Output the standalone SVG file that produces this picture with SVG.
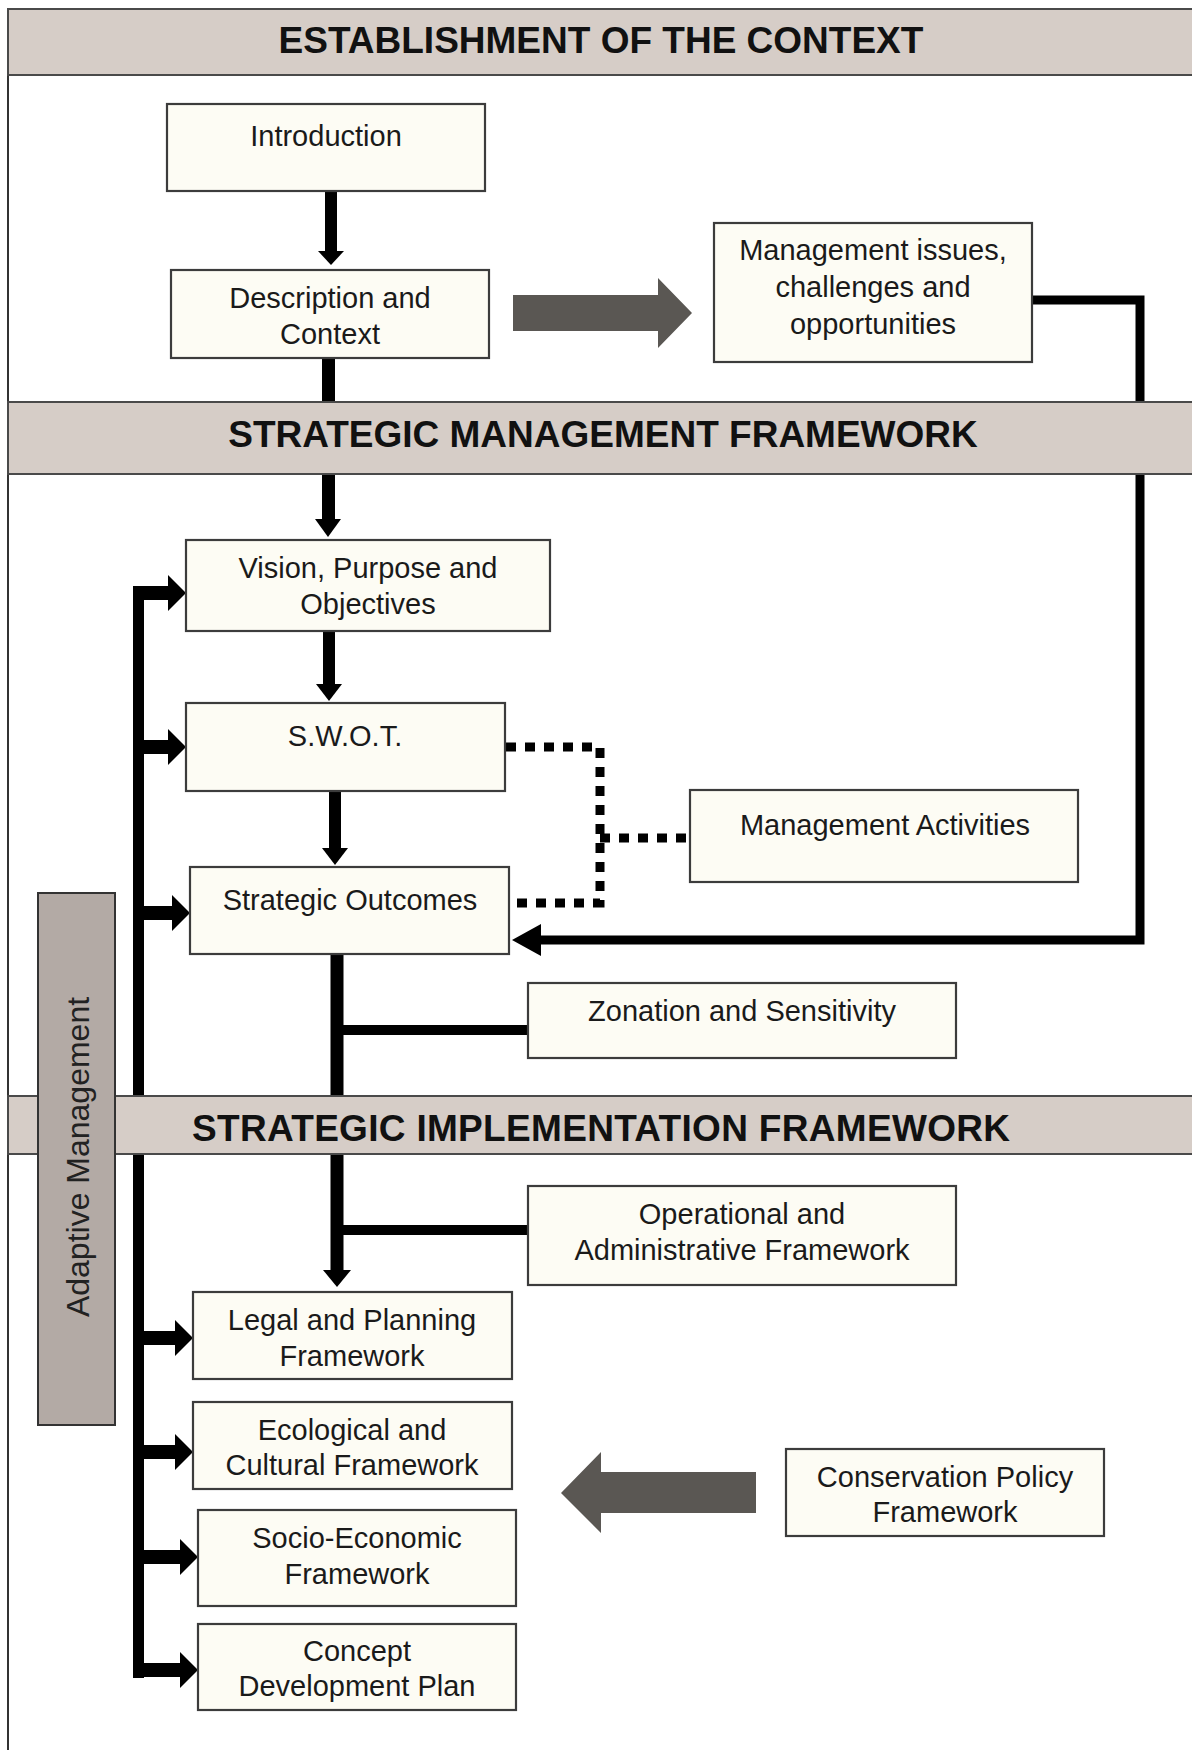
<svg xmlns="http://www.w3.org/2000/svg" width="1192" height="1750" viewBox="0 0 1192 1750">
<style>
.band{fill:#d6cdc7;stroke:#4a4a4a;stroke-width:2}
.bt{font-family:"Liberation Sans",Arial,sans-serif;font-weight:bold;font-size:37px;fill:#111;text-anchor:middle}
.box{fill:#fdfcf4;stroke:#3c3c3c;stroke-width:2.2}
.t{font-family:"Liberation Sans",Arial,sans-serif;font-size:29px;fill:#1a1a1a;text-anchor:middle}
.k{fill:#000}
.g{fill:#5a5753}
.ln{fill:none;stroke:#000;stroke-linejoin:miter}
.dot{fill:none;stroke:#000;stroke-width:9;stroke-dasharray:10 9}
.am{fill:#b3aaa5;stroke:#333;stroke-width:2}
.amt{font-family:"Liberation Sans",Arial,sans-serif;font-size:32px;fill:#222;text-anchor:middle}
</style>
<rect x="0" y="0" width="1192" height="1750" fill="#fff"/>
<line x1="8" y1="9" x2="8" y2="1750" stroke="#333" stroke-width="2"/>

<g id="connectors">
  <!-- Introduction -> Description -->
  <rect class="k" x="325" y="192" width="12" height="60"/>
  <polygon class="k" points="318,251 344,251 331,265"/>
  <!-- Description -> band -->
  <rect class="k" x="322" y="357" width="13" height="47"/>
  <!-- band -> Vision -->
  <rect class="k" x="322" y="473" width="13" height="47"/>
  <polygon class="k" points="315,519 341,519 328,537"/>
  <!-- Vision -> SWOT -->
  <rect class="k" x="323" y="630" width="12" height="55"/>
  <polygon class="k" points="316,684 342,684 329,701"/>
  <!-- SWOT -> Strategic Outcomes -->
  <rect class="k" x="329" y="790" width="12" height="59"/>
  <polygon class="k" points="322,848 348,848 335,865"/>
  <!-- Strategic Outcomes stem -> Legal -->
  <rect class="k" x="330.5" y="954" width="13" height="317"/>
  <polygon class="k" points="323,1270 351,1270 337,1287"/>
  <rect class="k" x="337" y="1025" width="192" height="10"/>
  <rect class="k" x="337" y="1225" width="192" height="10"/>
  <!-- Management issues feedback -> Strategic Outcomes -->
  <path class="ln" stroke-width="9" d="M1032,300 H1140 V940 H538"/>
  <polygon class="k" points="512,940 541,924 541,956"/>
  <!-- dotted links -->
  <path class="dot" d="M506,747 H600 V903 H510"/>
  <path class="dot" d="M600,838 H690"/>
  <!-- Adaptive management loop -->
  <rect class="k" x="133" y="586" width="11" height="1092"/>
  <rect class="k" x="133" y="586" width="38" height="14"/>
  <polygon class="k" points="168,575 168,611 186,593"/>
  <rect class="k" x="133" y="740" width="38" height="14"/>
  <polygon class="k" points="168,729 168,765 186,747"/>
  <rect class="k" x="133" y="906" width="42" height="14"/>
  <polygon class="k" points="172,895 172,931 190,913"/>
  <rect class="k" x="133" y="1331" width="45" height="14"/>
  <polygon class="k" points="175,1320 175,1356 193,1338"/>
  <rect class="k" x="133" y="1445" width="45" height="14"/>
  <polygon class="k" points="175,1434 175,1470 193,1452"/>
  <rect class="k" x="133" y="1550" width="50" height="14"/>
  <polygon class="k" points="180,1539 180,1575 198,1557"/>
  <rect class="k" x="133" y="1663" width="50" height="14"/>
  <polygon class="k" points="180,1652 180,1688 198,1670"/>
  <!-- big grey arrows -->
  <polygon class="g" points="513,295 658,295 658,278 692,313 658,348 658,331 513,331"/>
  <polygon class="g" points="756,1472 601,1472 601,1452 561,1493 601,1533 601,1513 756,1513"/>
</g>

<g id="band-context">
  <rect class="band" x="8" y="9" width="1195" height="66"/>
  <text class="bt" x="601" y="53">ESTABLISHMENT OF THE CONTEXT</text>
</g>
<g id="band-management">
  <rect class="band" x="8" y="402" width="1195" height="72"/>
  <text class="bt" x="603" y="447">STRATEGIC MANAGEMENT FRAMEWORK</text>
</g>
<g id="band-implementation">
  <rect class="band" x="8" y="1096" width="1195" height="58"/>
  <text class="bt" x="601" y="1141" textLength="818" lengthAdjust="spacing">STRATEGIC IMPLEMENTATION FRAMEWORK</text>
</g>

<g id="introduction">
  <rect class="box" x="167" y="104" width="318" height="87"/>
  <text class="t" x="326" y="146">Introduction</text>
</g>
<g id="description">
  <rect class="box" x="171" y="270" width="318" height="88"/>
  <text class="t" x="330" y="308">Description and</text>
  <text class="t" x="330" y="344">Context</text>
</g>
<g id="management-issues">
  <rect class="box" x="714" y="223" width="318" height="139"/>
  <text class="t" x="873" y="260">Management issues,</text>
  <text class="t" x="873" y="297">challenges and</text>
  <text class="t" x="873" y="334">opportunities</text>
</g>
<g id="vision">
  <rect class="box" x="186" y="540" width="364" height="91"/>
  <text class="t" x="368" y="578">Vision, Purpose and</text>
  <text class="t" x="368" y="614">Objectives</text>
</g>
<g id="swot">
  <rect class="box" x="186" y="703" width="319" height="88"/>
  <text class="t" x="345" y="746">S.W.O.T.</text>
</g>
<g id="management-activities">
  <rect class="box" x="690" y="790" width="388" height="92"/>
  <text class="t" x="885" y="835">Management Activities</text>
</g>
<g id="strategic-outcomes">
  <rect class="box" x="190" y="867" width="319" height="87"/>
  <text class="t" x="350" y="910">Strategic Outcomes</text>
</g>
<g id="zonation">
  <rect class="box" x="528" y="983" width="428" height="75"/>
  <text class="t" x="742" y="1021">Zonation and Sensitivity</text>
</g>
<g id="operational">
  <rect class="box" x="528" y="1186" width="428" height="99"/>
  <text class="t" x="742" y="1224">Operational and</text>
  <text class="t" x="742" y="1260">Administrative Framework</text>
</g>
<g id="legal">
  <rect class="box" x="193" y="1292" width="319" height="87"/>
  <text class="t" x="352" y="1330">Legal and Planning</text>
  <text class="t" x="352" y="1366">Framework</text>
</g>
<g id="ecological">
  <rect class="box" x="193" y="1402" width="319" height="87"/>
  <text class="t" x="352" y="1440">Ecological and</text>
  <text class="t" x="352" y="1475">Cultural Framework</text>
</g>
<g id="socio-economic">
  <rect class="box" x="198" y="1510" width="318" height="96"/>
  <text class="t" x="357" y="1548">Socio-Economic</text>
  <text class="t" x="357" y="1584">Framework</text>
</g>
<g id="concept">
  <rect class="box" x="198" y="1624" width="318" height="86"/>
  <text class="t" x="357" y="1661">Concept</text>
  <text class="t" x="357" y="1696">Development Plan</text>
</g>
<g id="conservation-policy">
  <rect class="box" x="786" y="1449" width="318" height="87"/>
  <text class="t" x="945" y="1487">Conservation Policy</text>
  <text class="t" x="945" y="1522">Framework</text>
</g>
<g id="adaptive-management">
  <rect class="am" x="38" y="893" width="77" height="532"/>
  <text class="amt" transform="rotate(-90)" x="-1157" y="89">Adaptive Management</text>
</g>
</svg>
